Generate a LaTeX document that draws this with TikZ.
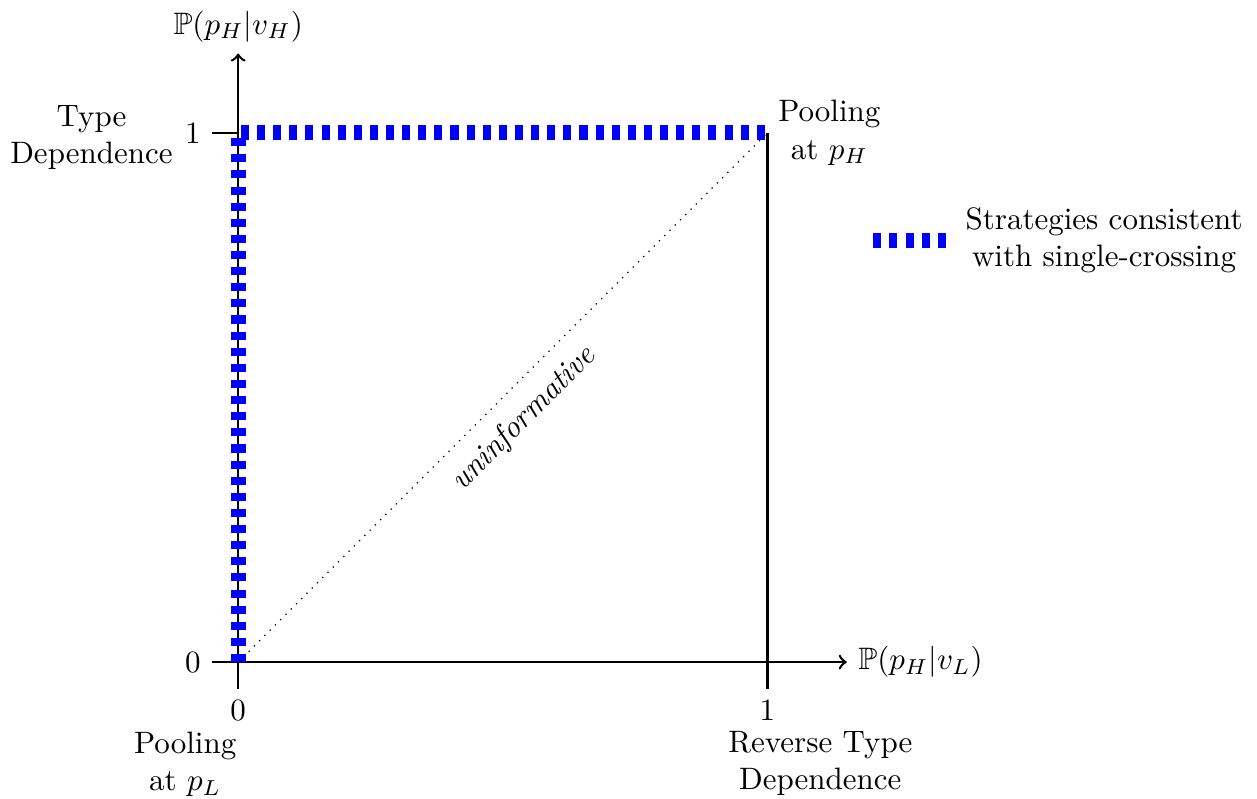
\documentclass[tikz,border=0pt]{standalone}
\usepackage{amssymb}
\usetikzlibrary{positioning}
\tikzset{
    axis/.style={thick,->},
    tickline/.style={thick},
    consistent/.style={blue,line width=4.8pt,dash pattern=on 2.6pt off 2.6pt},
    lbl/.style={align=center}
}

\begin{document}
\begin{tikzpicture}[x=6cm,y=6cm]
    \useasboundingbox (-0.45,-0.257) rectangle (1.925,1.251);
    \coordinate (O) at (0,0);
    \coordinate (yone) at (0,1);
    \coordinate (corner) at (1,1);
    \coordinate (xend) at (1.15,0);
    \coordinate (yend) at (0,1.15);
    \coordinate (xtick0) at (0,-0.05);
    \coordinate (xtick1) at (1,-0.05);
    \coordinate (ytick0) at (-0.05,0);
    \coordinate (ytick1) at (-0.05,1);

    % axes and ticks
    \draw[axis] (ytick0) -- (xend) node[right] (xlabel) {$\mathbb{P}(p_H|v_L)$};
    \draw[axis] (xtick0) -- (yend) node[above] (ylabel) {$\mathbb{P}(p_H|v_H)$};
    \draw[tickline] (ytick1) -- (yone);
    \draw[tickline] (xtick1) -- (corner);

    \node[below] (x0) at (xtick0) {0};
    \node[below] (x1) at (xtick1) {1};
    \node[left] (y0) at (ytick0) {0};
    \node[left] (y1) at (ytick1) {1};

    % corners
    \node[lbl, left=-3pt of y1, yshift=-1.5pt] (typedep) {Type\\Dependence};
    \node[lbl, right] (poolH) at (corner) {Pooling\\at $p_H$};
    \node[lbl, below=-3.5pt of x0, xshift=-0.6cm] (poolL) {Pooling\\at $p_L$};
    \node[lbl, below=-3.5pt of x1, xshift=0.6cm] (revdep) {Reverse Type\\Dependence};

    \draw[dotted] (O) -- node[below, sloped, pos=0.5, inner sep=5pt] (uninf) {\textit{uninformative}} (corner);
    \draw[consistent] (O) -- (yone) -- (corner);

    % legend
    \coordinate (legA) at (1.2,0.797);
    \coordinate (legB) at (1.337,0.797);
    \draw[consistent] (legA) -- (legB);
    \node[lbl, right=0.1cm of legB] (legtext) {Strategies consistent\\with single-crossing};
\end{tikzpicture}
\end{document}
